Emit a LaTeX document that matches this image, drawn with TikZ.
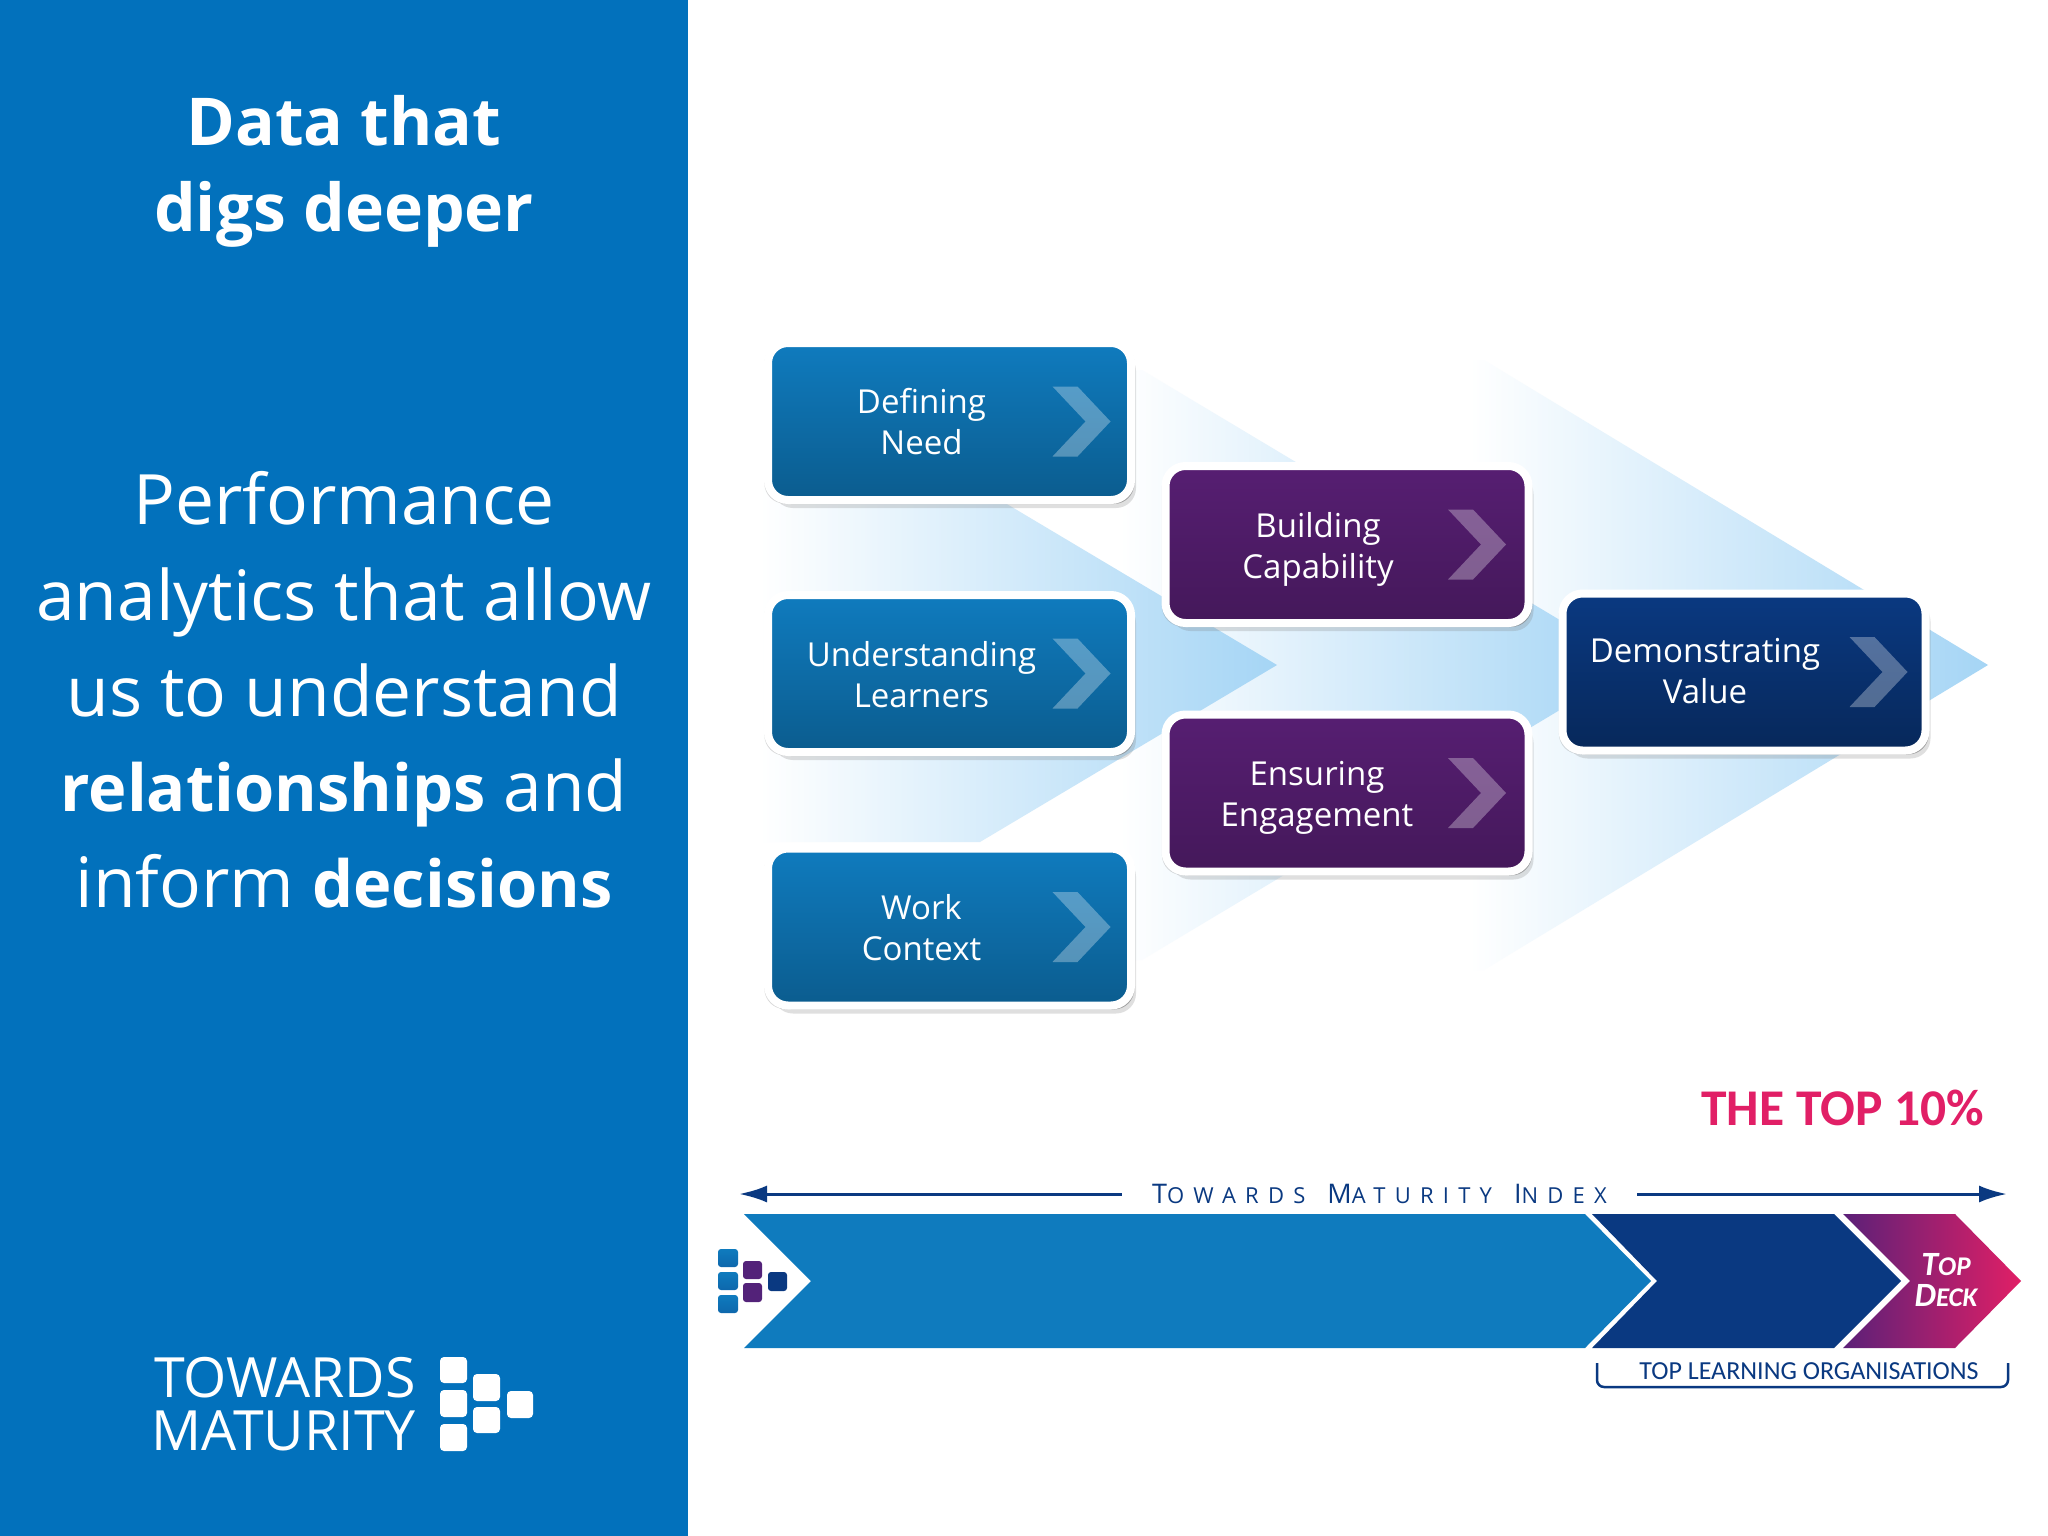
\documentclass[tikz,border=0pt]{standalone}
\usepackage{fontspec}
\setmainfont{Open Sans}
\newfontfamily\calibri{Carlito}
\newfontfamily\tracked[LetterSpace=42]{Open Sans}
\usetikzlibrary{shadows}
\usetikzlibrary{arrows.meta}
\definecolor{panelblue}{HTML}{0271BC}
\definecolor{barblue}{HTML}{0F7BBE}
\definecolor{navy}{HTML}{0A3981}
\definecolor{paleblue}{HTML}{A5D5F5}
\definecolor{topplum}{HTML}{5B2078}
\definecolor{toppink}{HTML}{E11F66}
\tikzstyle{stage}=[rectangle, draw=white, line width=8pt, rounded corners=20pt, inner sep=0pt,
    minimum width=363pt, minimum height=157pt,
    drop shadow={shadow xshift=0pt, shadow yshift=-2pt, shadow scale=1.02, opacity=0.3},
    drop shadow={shadow xshift=3pt, shadow yshift=-4pt, opacity=0.5},
    drop shadow={shadow xshift=5pt, shadow yshift=-8pt, opacity=0.25}]
\tikzstyle{bluestage}=[stage, top color=barblue, bottom color=barblue!75!black]
\tikzstyle{purplestage}=[stage, top color=topplum!95!black, bottom color=topplum!75!black]
\tikzstyle{navystage}=[stage, top color=navy, bottom color=navy!70!black]
\tikzstyle{stagelabel}=[text=white, align=center, inner sep=0pt, font=\fontsize{33}{41}\selectfont]
\tikzstyle{chevronmark}=[white, opacity=0.3]
\tikzstyle{backarrow}=[left color=white, right color=paleblue]
\tikzstyle{panellabel}=[text=white, align=center, inner sep=0pt]
\tikzstyle{logoblock}=[fill=white, rounded corners=4pt]
\tikzstyle{miniblock}=[rounded corners=3pt]
\tikzstyle{indexline}=[navy, line width=3pt, -{Latex[length=28pt, width=17pt]}]
\providecommand{\chevron}[1]{\fill[chevronmark, shift={(#1)}] (103,-35) -- (128,-35) -- (161,0) -- (128,35) -- (103,35) -- (136,0) -- cycle}
\providecommand{\capsmall}[2]{{\fontsize{#1}{#1}\selectfont #2}}
\providecommand{\heavy}[1]{{\fontsize{65}{65}\selectfont\bfseries #1}}
\begin{document}
\begin{tikzpicture}[x=1pt, y=-1pt]
\useasboundingbox (0,0) rectangle (2048,1536);
\fill[white] (0,0) rectangle (2048,1536);
\fill[panelblue] (0,0) rectangle (688,1536);

\node[panellabel, font=\fontsize{66}{86}\selectfont\bfseries] (title) at (344,171) {Data that\\digs deeper};
\node[panellabel, font=\fontsize{69.5}{95.7}\selectfont] (body) at (344,690) {Performance\\analytics that allow\\us to understand\\\heavy{relationships} and\\inform \heavy{decisions}};

\node[panellabel, anchor=east, font=\fontsize{55.5}{53}\selectfont, align=right] (logotext) at (416,1404) {TOWARDS\\MATURITY};
\fill[logoblock] (440,1357) rectangle (467,1383);
\fill[logoblock] (440,1390) rectangle (467,1417);
\fill[logoblock] (440,1424) rectangle (467,1451);
\fill[logoblock] (473,1374) rectangle (500,1401);
\fill[logoblock] (473,1407) rectangle (500,1433);
\fill[logoblock] (507,1391) rectangle (533,1418);

\shade[backarrow] (1470,360) -- (1484,360) -- (1988,665) -- (1484,970) -- (1470,970) -- cycle;
\shade[backarrow] (1120,370) -- (1142,370) -- (1635,665) -- (1142,960) -- (1120,960) -- cycle;
\shade[backarrow] (760,488) -- (980,488) -- (1277,665) -- (980,842) -- (760,842) -- cycle;

\node[bluestage] (need) at (949.5,421.5) {};
\node[bluestage] (learners) at (949.5,673.5) {};
\node[bluestage] (context) at (949.5,927) {};
\node[purplestage] (capability) at (1347,544.5) {};
\node[purplestage] (engagement) at (1347,793) {};
\node[navystage] (value) at (1744,672) {};

\node[stagelabel] (needlabel) at ([xshift=-28pt]need) {Defining\\Need};
\node[stagelabel] (learnerslabel) at ([xshift=-28pt, yshift=-1pt]learners) {Understanding\\Learners};
\node[stagelabel] (contextlabel) at ([xshift=-28pt, yshift=-1pt]context) {Work\\Context};
\node[stagelabel] (capabilitylabel) at ([xshift=-29pt, yshift=-5pt]capability) {Building\\Capability};
\node[stagelabel] (engagementlabel) at ([xshift=-30pt, yshift=-5pt]engagement) {Ensuring\\Engagement};
\node[stagelabel] (valuelabel) at ([xshift=-39pt, yshift=1pt]value) {Demonstrating\\Value};

\chevron{need};
\chevron{learners};
\chevron{context};
\chevron{[xshift=-2pt]capability};
\chevron{[xshift=-2pt]engagement};
\chevron{[xshift=2.5pt]value};

\node[anchor=east, inner sep=0pt, text=toppink, font=\fontsize{51.5}{50}\selectfont\calibri\bfseries] (topten) at (1984,1108) {THE TOP 10\%};

\coordinate (indexleft) at (739,1194);
\coordinate (indexright) at (2007,1194);
\node[text=navy, minimum width=515pt, inner sep=0pt, font=\tracked] (indexlabel) at (1379.5,1194) {\capsmall{27}{T}\capsmall{22}{OWARDS}\hspace*{22pt}\capsmall{27}{M}\capsmall{22}{ATURITY}\hspace*{22pt}\capsmall{27}{I}\capsmall{22}{NDEX}};
\draw[indexline] (indexlabel) -- (indexleft);
\draw[indexline] (indexlabel) -- (indexright);

\fill[barblue] (744,1214) -- (1585,1214) -- (1651,1281) -- (1585,1348) -- (744,1348) -- (811,1281) -- cycle;
\fill[navy] (1592,1214) -- (1834,1214) -- (1901,1281) -- (1834,1348) -- (1592,1348) -- (1657,1281) -- cycle;
\shade[left color=topplum, right color=toppink] (1843,1214) -- (1955,1214) -- (2021,1281) -- (1955,1348) -- (1843,1348) -- (1910,1281) -- cycle;
\node[text=white, align=center, inner sep=0pt, font=\calibri\bfseries\itshape\fontsize{27}{31}\selectfont] (topdeck) at (1946,1280) {\capsmall{34}{T}\capsmall{27}{OP}\\\capsmall{34}{D}\capsmall{27}{ECK}};

\shade[miniblock, top color=barblue, bottom color=barblue!70!navy] (718,1249) rectangle (738,1267);
\shade[miniblock, top color=barblue, bottom color=barblue!70!navy] (718,1272) rectangle (738,1290);
\shade[miniblock, top color=barblue, bottom color=barblue!70!navy] (718,1295) rectangle (738,1313);
\fill[miniblock, topplum!90!navy] (743,1261) rectangle (762,1279);
\fill[miniblock, topplum!90!navy] (743,1283) rectangle (762,1302);
\fill[miniblock, navy] (768,1272) rectangle (787,1291);

\coordinate (bracketa) at (1597,1363);
\coordinate (bracketb) at (1597,1387);
\coordinate (bracketc) at (2008,1387);
\coordinate (bracketd) at (2008,1363);
\draw[navy, line width=2.5pt, rounded corners=7pt] (bracketa) -- (bracketb) -- (bracketc) -- (bracketd);
\node[text=navy, inner sep=0pt, font=\fontsize{26}{26}\selectfont\calibri] (toporgs) at (1809,1371) {TOP LEARNING ORGANISATIONS};
\end{tikzpicture}
\end{document}
